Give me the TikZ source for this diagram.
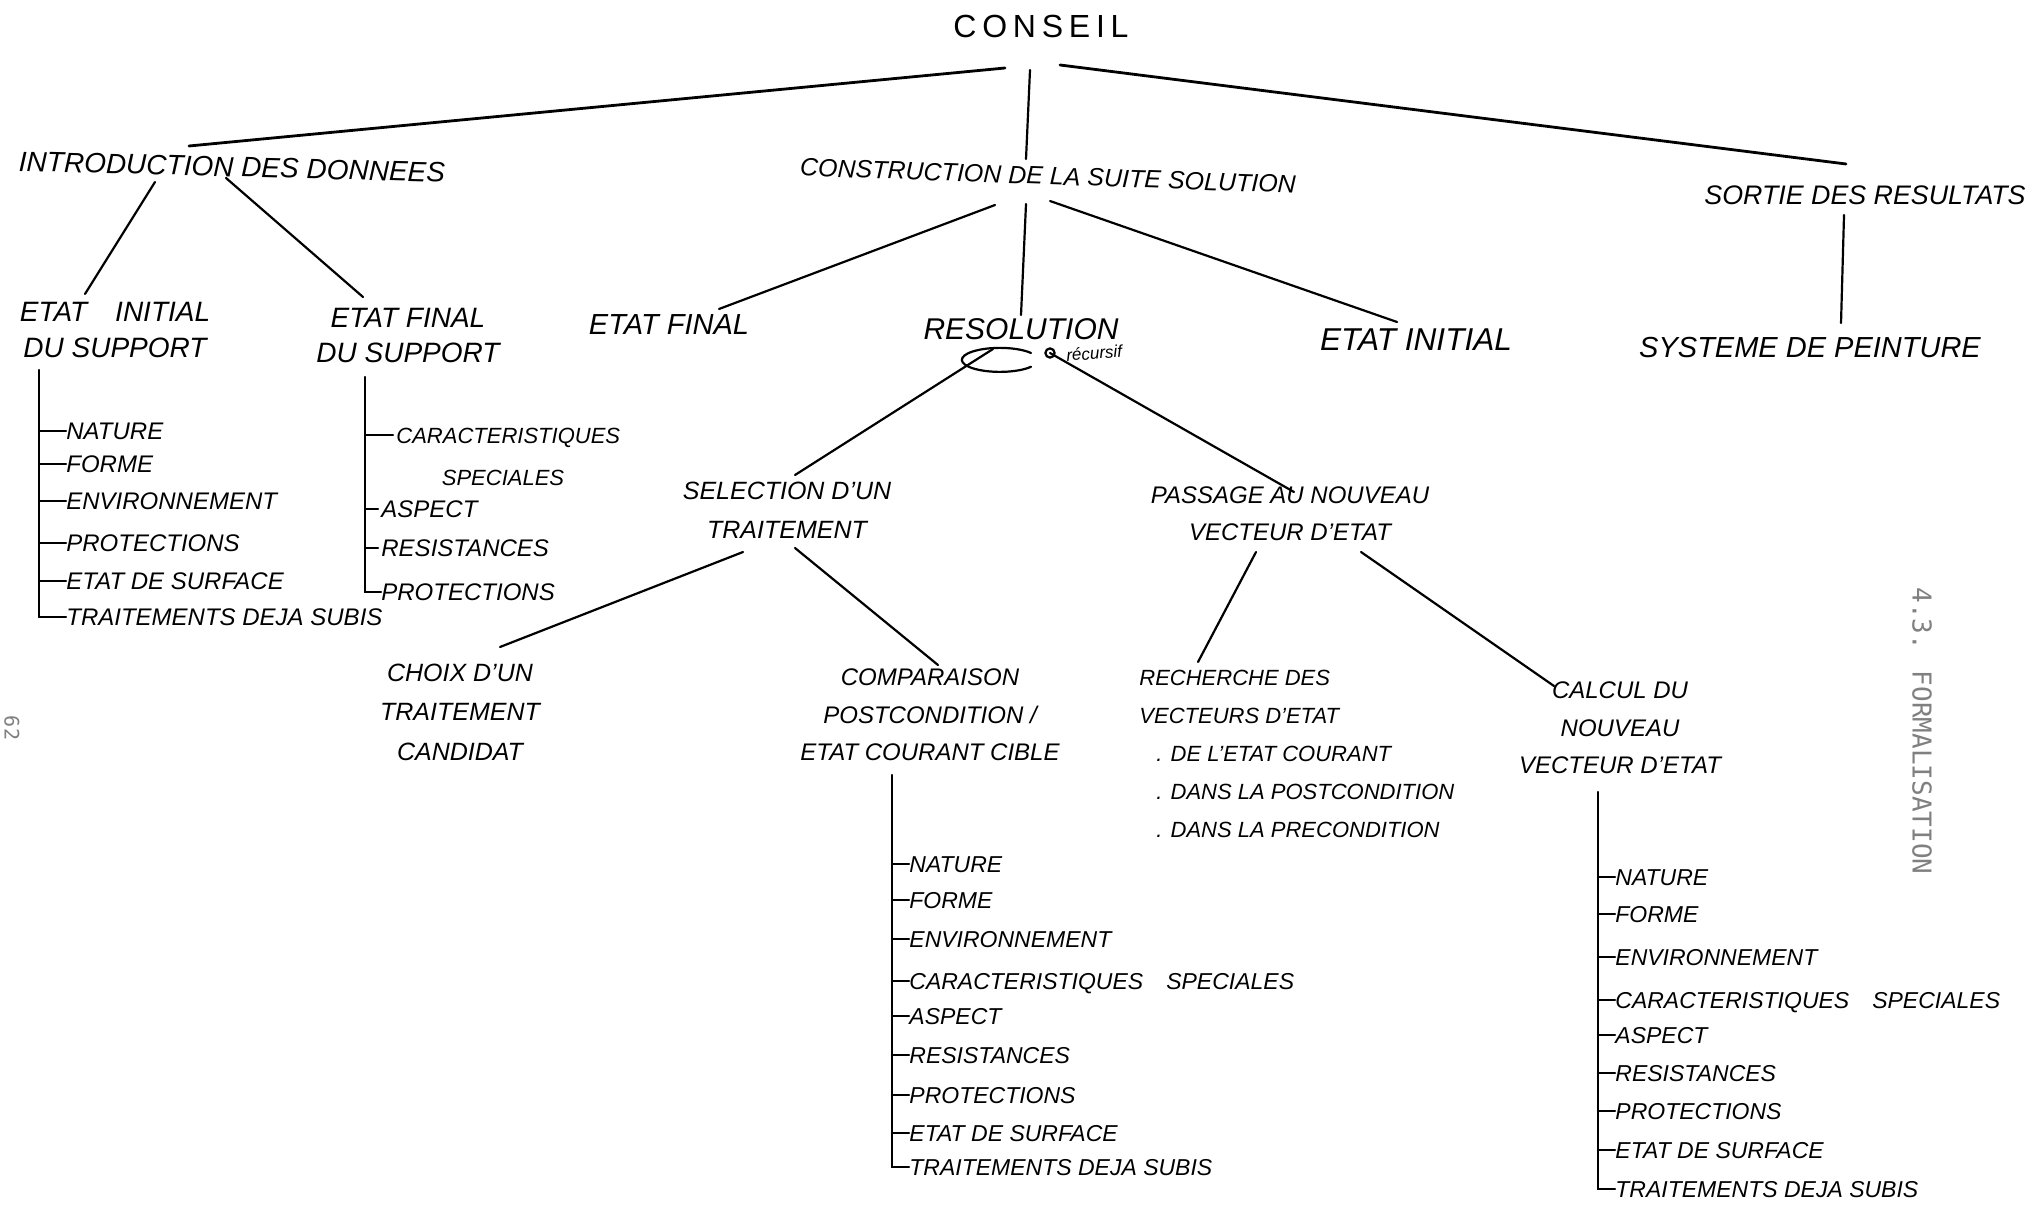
\documentclass[tikz,border=0pt]{standalone}
\usepackage{fontspec}
\setmainfont{Liberation Sans}
\newfontfamily\monof{DejaVu Sans Mono}
\usetikzlibrary{calc}
\begin{document}
\begin{tikzpicture}[x=0.5pt,y=-0.5pt,
  hw/.style 2 args={font=\itshape\fontsize{#1}{#2}\selectfont, inner sep=0pt, align=center},
  item/.style={font=\itshape\fontsize{12}{14}\selectfont, inner sep=0pt, anchor=west, text height=8.7pt, text depth=0pt},
  ritem/.style={item, font=\itshape\fontsize{11.5}{14}\selectfont, text height=8.3pt},
  pen/.style={line width=1.1pt, line cap=round},
  heavy/.style={line width=1.4pt, line cap=round},
  printed/.style={font=\monof\fontsize{#1}{#1}\selectfont, text=black!50, rotate=-90, inner sep=0pt}]

\fill[white] (0,0) rectangle (2037,1208);
\useasboundingbox (0,0) rectangle (2037,1208);

% ---- top level ----
\node[font=\fontsize{16}{18}\selectfont\addfontfeatures{LetterSpace=18}, inner sep=0pt] (conseil) at (1041,26) {CONSEIL};
\node[hw={14}{16}, rotate=-1.5] (intro) at (232,167) {INTRODUCTION DES DONNEES};
\node[hw={12.5}{15}, rotate=-2] (constr) at (1048,176) {CONSTRUCTION DE LA SUITE SOLUTION};
\node[hw={13.4}{16}] (sortie) at (1865,195) {SORTIE DES RESULTATS};

% ---- second level ----
\node[hw={14}{18}] (einit) at (115,330) {ETAT\quad INITIAL\\DU SUPPORT};
\node[hw={14}{17.5}] (efin1) at (408,336) {ETAT FINAL\\DU SUPPORT};
\node[hw={14.5}{16}] (efin2) at (669,325) {ETAT FINAL};
\node[hw={15}{17}] (resol) at (1021,329) {RESOLUTION};
\node[hw={15.8}{17}] (einit2) at (1416,340) {ETAT INITIAL};
\node[hw={14.5}{17}] (systeme) at (1810,348) {SYSTEME DE PEINTURE};

% ---- third level ----
\node[hw={12.5}{19.5}] (select) at (787,510) {SELECTION D'UN\\TRAITEMENT};
\node[hw={12}{18.5}] (passage) at (1290,514) {PASSAGE AU NOUVEAU\\VECTEUR D'ETAT};

% ---- fourth level ----
\node[hw={12.5}{19.75}] (choix) at (460,712) {CHOIX D'UN\\TRAITEMENT\\CANDIDAT};
\node[hw={12}{18.75}] (compar) at (930,715) {COMPARAISON\\POSTCONDITION /\\ETAT COURANT CIBLE};
\node[hw={11}{19}, align=left, anchor=north west] (recherche) at (1139,670)
  {RECHERCHE DES\\VECTEURS D'ETAT\\\hspace*{8.5pt}. DE L'ETAT COURANT\\\hspace*{8.5pt}. DANS LA POSTCONDITION\\\hspace*{8.5pt}. DANS LA PRECONDITION};
\node[hw={12}{18.75}] (calcul) at (1620,728) {CALCUL DU\\NOUVEAU\\VECTEUR D'ETAT};

% ---- connectors ----
\draw[heavy] ($(conseil)+(-36,42)$) -- ($(intro)+(-43,-21)$);
\draw[pen] ($(conseil)+(-11,44)$) -- ($(constr)+(-22,-17)$);
\draw[heavy] ($(conseil)+(19,39)$) -- ($(sortie)+(-19,-31)$);
\draw[pen] ($(intro)+(-77,15)$) -- ($(einit)+(-30,-36)$);
\draw[pen] ($(intro)+(-6,11)$) -- ($(efin1)+(-45,-39)$);
\draw[pen] ($(constr)+(-53,29)$) -- ($(efin2)+(50,-16)$);
\draw[pen] ($(constr)+(-22,28)$) -- ($(resol)+(0,-14)$);
\draw[pen] ($(constr)+(2,25)$) -- ($(einit2)+(-19,-18)$);
\draw[pen] ($(sortie)+(-21,20)$) -- ($(systeme)+(31,-25)$);
\draw[pen] ($(resol)+(-28,20)$) -- ($(select)+(8,-35)$);
\draw[pen] ($(resol)+(29,24)$) -- ($(passage)+(4,-22)$);
\draw[pen] ($(select)+(-44,42)$) -- ($(choix)+(40,-65)$);
\draw[pen] ($(select)+(8,38)$) -- ($(compar)+(8,-50)$);
\draw[pen] ($(passage)+(-34,38)$) -- ($(recherche.north west)+(59,-8)$);
\draw[pen] ($(passage)+(71,38)$) -- ($(calcul)+(-66,-42)$);

% recursion mark
\draw[pen] ($(resol)+(10,24)$) arc[start angle=35, end angle=325, x radius=19pt, y radius=6pt];
\draw[pen] ($(resol)+(29,24)$) circle[radius=2.3pt];
\node[font=\itshape\fontsize{8.5}{9}\selectfont, rotate=4, anchor=west, inner sep=0pt] (rec) at ($(resol)+(45,26)$) {récursif};

% ---- list: etat initial du support ----
\foreach \t/\y [count=\i] in {NATURE/431, FORME/464, ENVIRONNEMENT/501, PROTECTIONS/543, ETAT DE SURFACE/581, TRAITEMENTS DEJA SUBIS/617}
  \node[item] (a\i) at (66,\y) {\t};
\coordinate (av) at (39,370);
\draw[pen] (av) |- (a6.west);
\foreach \i in {1,...,5} \draw[pen] (av |- a\i.west) -- (a\i.west);

% ---- list: etat final du support ----
\node[item, font=\itshape\fontsize{11}{14}\selectfont] (b1) at (396,435) {CARACTERISTIQUES};
\node[item, font=\itshape\fontsize{11}{14}\selectfont, anchor=center] (b1s) at (503,477) {SPECIALES};
\foreach \t/\y [count=\i from 2] in {ASPECT/509, RESISTANCES/548, PROTECTIONS/592}
  \node[item] (b\i) at (381,\y) {\t};
\coordinate (bv) at (365,377);
\draw[pen] (bv) |- (b4.west);
\foreach \i in {1,2,3} \draw[pen] (bv |- b\i.west) -- ($(b\i.west)+(-3,0)$);

% ---- list: comparaison ----
\foreach \t/\y [count=\i] in {NATURE/864, FORME/900, ENVIRONNEMENT/939, CARACTERISTIQUES\quad SPECIALES/981, ASPECT/1016, RESISTANCES/1055, PROTECTIONS/1095, ETAT DE SURFACE/1133, TRAITEMENTS DEJA SUBIS/1167}
  \node[ritem] (c\i) at (909,\y) {\t};
\coordinate (cv) at (892,775);
\draw[pen] (cv) |- (c9.west);
\foreach \i in {1,...,8} \draw[pen] (cv |- c\i.west) -- (c\i.west);

% ---- list: calcul du nouveau vecteur ----
\foreach \t/\y [count=\i] in {NATURE/877, FORME/914, ENVIRONNEMENT/957, CARACTERISTIQUES\quad SPECIALES/1000, ASPECT/1035, RESISTANCES/1073, PROTECTIONS/1111, ETAT DE SURFACE/1150, TRAITEMENTS DEJA SUBIS/1189}
  \node[ritem] (d\i) at (1615,\y) {\t};
\coordinate (dv) at (1598,792);
\draw[pen] (dv) |- (d9.west);
\foreach \i in {1,...,8} \draw[pen] (dv |- d\i.west) -- (d\i.west);

% ---- printed margin texts ----
\node[printed=13] (sect) at (1922,731) {4.3. FORMALISATION};
\node[printed=10] (page) at (12,728) {62};
\end{tikzpicture}
\end{document}
